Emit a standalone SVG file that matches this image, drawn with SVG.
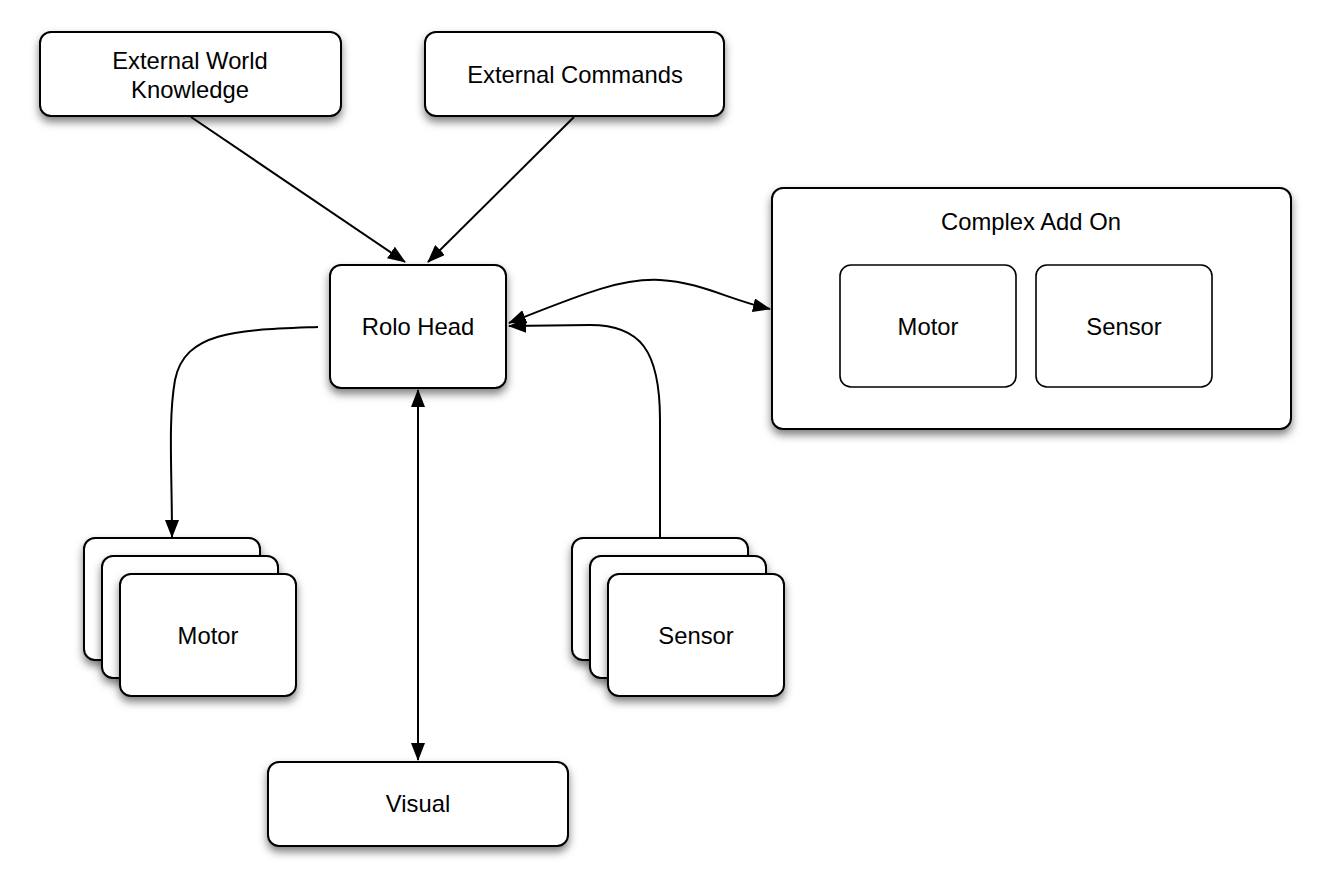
<svg xmlns="http://www.w3.org/2000/svg" width="1332" height="894" viewBox="0 0 1332 894">
<defs>
<filter id="sh" x="-10%" y="-10%" width="130%" height="140%">
<feDropShadow dx="0" dy="5" stdDeviation="4" flood-color="#000" flood-opacity="0.5"/>
</filter>
<marker id="ah" viewBox="0 0 18 14" refX="17" refY="7" markerWidth="18" markerHeight="14" markerUnits="userSpaceOnUse" orient="auto-start-reverse">
<path d="M0,0 L18,7 L0,14 z" fill="#000"/>
</marker>
<style>
.box{fill:#fff;stroke:#000;stroke-width:2;filter:url(#sh)}
.inner{fill:#fff;stroke:#000;stroke-width:1.6}
.t{font-family:"Liberation Sans",Arial,sans-serif;font-size:23.8px;fill:#000;text-anchor:middle}
.c{fill:none;stroke:#000;stroke-width:2}
</style>
</defs>
<rect width="1332" height="894" fill="#fff"/>
<g id="connectors">
<path class="c" d="M191,117 L405,262" marker-end="url(#ah)"/>
<path class="c" d="M574,117 L428,262" marker-end="url(#ah)"/>
<path class="c" d="M318,327 C240,330 185,330 175,380 C168,420 172,470 172,537" marker-end="url(#ah)"/>
<path class="c" d="M418,390 L418,760" marker-start="url(#ah)" marker-end="url(#ah)"/>
<path class="c" d="M660,537 L660,420 C660,350 640,325 590,325 L509,326" marker-end="url(#ah)"/>
<path class="c" d="M509,323 C580,295 620,278 660,280 C700,282 730,300 770,309" marker-start="url(#ah)" marker-end="url(#ah)"/>
</g>
<g id="ewk"><rect class="box" x="40" y="32" width="301" height="84" rx="11"/><text class="t" x="190" y="69">External World</text><text class="t" x="190" y="98">Knowledge</text></g>
<g id="ec"><rect class="box" x="425" y="32" width="299" height="84" rx="11"/><text class="t" x="575" y="83">External Commands</text></g>
<g id="rolo"><rect class="box" x="330" y="265" width="176" height="123" rx="11"/><text class="t" x="418" y="335">Rolo Head</text></g>
<g id="complex"><rect class="box" x="772" y="188" width="519" height="241" rx="11"/><text class="t" x="1031" y="230">Complex Add On</text>
<rect class="inner" x="840" y="265" width="176" height="122" rx="11"/><text class="t" x="928" y="335">Motor</text>
<rect class="inner" x="1036" y="265" width="176" height="122" rx="11"/><text class="t" x="1124" y="335">Sensor</text></g>
<g id="motor"><rect class="box" x="84" y="538" width="176" height="122" rx="11"/><rect class="box" x="102" y="556" width="176" height="122" rx="11"/><rect class="box" x="120" y="574" width="176" height="122" rx="11"/><text class="t" x="208" y="644">Motor</text></g>
<g id="sensor"><rect class="box" x="572" y="538" width="176" height="122" rx="11"/><rect class="box" x="590" y="556" width="176" height="122" rx="11"/><rect class="box" x="608" y="574" width="176" height="122" rx="11"/><text class="t" x="696" y="644">Sensor</text></g>
<g id="visual"><rect class="box" x="268" y="762" width="300" height="84" rx="11"/><text class="t" x="418" y="812">Visual</text></g>
</svg>
